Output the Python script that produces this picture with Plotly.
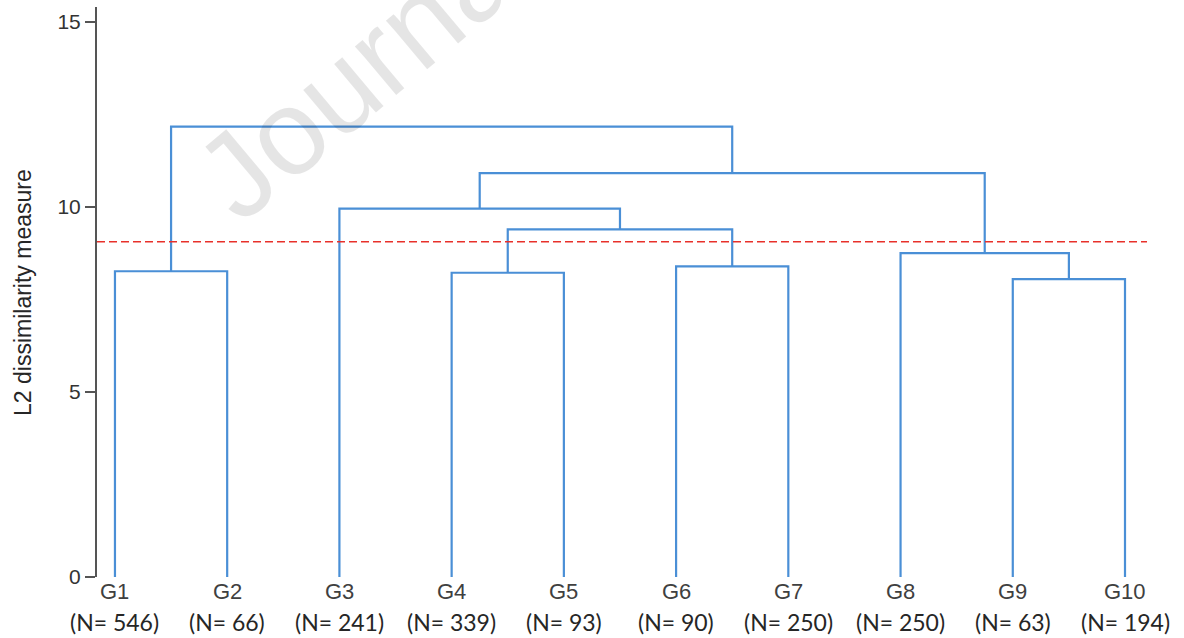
import plotly.graph_objects as go

# ---- data ----
leaf_labels = ["G1", "G2", "G3", "G4", "G5", "G6", "G7", "G8", "G9", "G10"]
leaf_counts = [546, 66, 241, 339, 93, 90, 250, 250, 63, 194]
# linkage (scipy style): cluster ids 0..9 are leaves, new clusters get ids 10, 11, ...
merge_left = [0, 3, 5, 8, 7, 11, 2, 16, 10]
merge_right = [1, 4, 6, 9, 13, 12, 15, 14, 17]
merge_height = [8.26, 8.22, 8.39, 8.05, 8.75, 9.39, 9.95, 10.91, 12.17]
cut_height = 9.06
y_tick_values = [0, 5, 10, 15]

# ---- build dendrogram links ----
n = len(leaf_labels)
pos = {i: float(i) for i in range(n)}
hgt = {i: 0.0 for i in range(n)}
xs, ys = [], []
for k, (a, b, h) in enumerate(zip(merge_left, merge_right, merge_height)):
    cid = n + k
    xs += [pos[a], pos[a], pos[b], pos[b], None]
    ys += [hgt[a], h, h, hgt[b], None]
    pos[cid] = (pos[a] + pos[b]) / 2
    hgt[cid] = h

fig = go.Figure()
fig.add_trace(go.Scatter(
    x=xs, y=ys, mode="lines",
    line=dict(color="#4a8fd6", width=2.2),
    hoverinfo="skip", showlegend=False,
))

# cut line
fig.add_shape(type="line", xref="paper", x0=0, x1=1, yref="y", y0=cut_height, y1=cut_height,
              line=dict(color="#e8302a", width=1.5, dash="8px,4px"))

annotations = []
for i, (lab, cnt) in enumerate(zip(leaf_labels, leaf_counts)):
    annotations.append(dict(x=i, xref="x", y=0, yref="paper", yanchor="middle", xanchor="center",
                            yshift=-14, text=lab, showarrow=False,
                            font=dict(family="Liberation Sans, Arial", size=22, color="#404040")))
    annotations.append(dict(x=i, xref="x", y=0, yref="paper", yanchor="middle", xanchor="center",
                            yshift=-45, text=f"(N= {cnt})", showarrow=False,
                            font=dict(family="Lato, Open Sans", size=23, color="#262626")))

annotations.append(dict(x=-0.0705, xref="paper", y=0.5, yref="paper", xanchor="center", yanchor="middle",
                        text="L2 dissimilarity measure", textangle=-90, showarrow=False,
                        font=dict(family="Liberation Sans, Arial", size=23, color="#262626")))

# watermark
annotations.append(dict(x=0.256, xref="paper", y=0.896, yref="paper", xanchor="center", yanchor="middle",
                        text="Journal", textangle=-40, showarrow=False,
                        font=dict(family="Liberation Sans, Arial", size=121, color="rgba(0,0,0,0.1)")))

fig.update_layout(
    width=1184, height=638,
    margin=dict(l=97, r=37, t=7, b=61),
    paper_bgcolor="white", plot_bgcolor="white",
    showlegend=False,
    annotations=annotations,
    xaxis=dict(range=[-0.16, 9.196], visible=False, showgrid=False, zeroline=False),
    yaxis=dict(range=[0, 15.4], tickvals=y_tick_values, showgrid=False, zeroline=False,
               showline=True, linecolor="#555555", linewidth=2,
               ticks="outside", ticklen=10, tickwidth=1.5, tickcolor="#555555",
               tickfont=dict(family="Liberation Sans, Arial", size=21, color="#333333")),
)

fig.write_html("out.html", config={"displayModeBar": False},
               post_script="document.body.style.margin='0px';")
